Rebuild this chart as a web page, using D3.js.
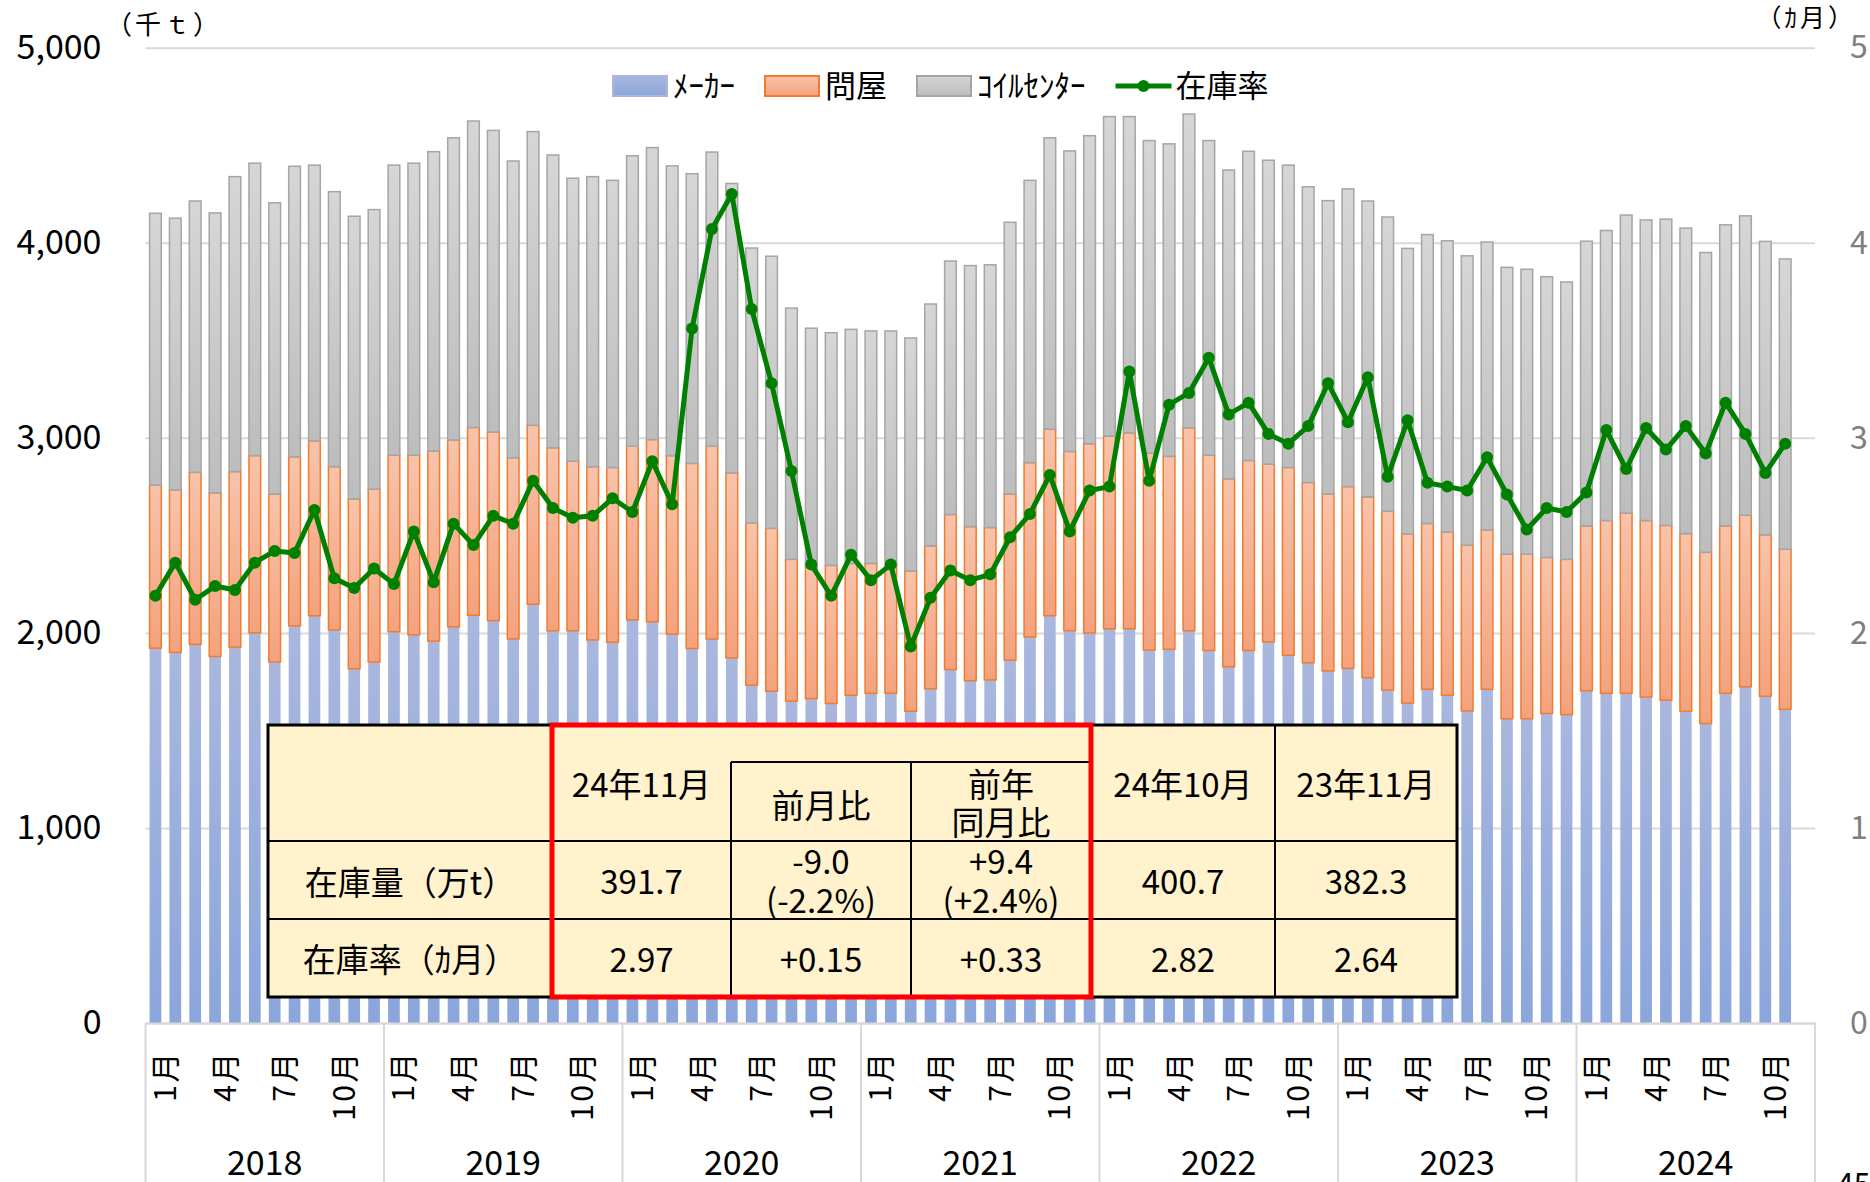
<!DOCTYPE html>
<html>
<head>
<meta charset="utf-8">
<script src="https://cdnjs.cloudflare.com/ajax/libs/d3/7.8.5/d3.min.js"></script>
<style>
  body { margin: 0; background: #fff; }
  svg { display: block; font-family: "Noto Sans CJK JP", "Noto Sans", sans-serif; }
</style>
</head>
<body>
<svg width="1870" height="1182"></svg>
<script>
// ---- data (千t / カ月), Jan 2018 .. Nov 2024 ----
var years = ["2018", "2019", "2020", "2021", "2022", "2023", "2024"];
var monthTicks = [1, 4, 7, 10];

var maker = [
  1922, 1900, 1941, 1879, 1927, 2000, 1851, 2036, 2088, 2015, 1816, 1851,
  2006, 1990, 1958, 2031, 2090, 2063, 1969, 2147, 2011, 2011, 1964, 1952,
  2067, 2057, 1994, 1920, 1969, 1872, 1732, 1701, 1650, 1663, 1638, 1680,
  1690, 1690, 1598, 1713, 1812, 1755, 1759, 1860, 1979, 2088, 2011, 2000,
  2021, 2021, 1912, 1916, 2011, 1910, 1826, 1910, 1954, 1885, 1847, 1805,
  1818, 1770, 1707, 1640, 1711, 1680, 1600, 1711, 1560, 1560, 1587, 1581,
  1703, 1690, 1690, 1671, 1655, 1598, 1535, 1690, 1724, 1675, 1608];
var wholesaler = [
  836, 833, 882, 839, 900, 909, 861, 867, 896, 837, 871, 886,
  905, 921, 974, 958, 963, 967, 929, 917, 938, 869, 888, 896,
  890, 934, 915, 949, 988, 949, 831, 835, 727, 676, 708, 676,
  666, 656, 720, 733, 795, 790, 781, 852, 894, 957, 919, 970,
  988, 1005, 1009, 989, 1040, 1001, 964, 974, 911, 963, 924, 907,
  932, 927, 917, 867, 850, 837, 850, 817, 844, 844, 800, 796,
  846, 886, 924, 905, 896, 911, 878, 859, 879, 828, 821];
var coilCenter = [
  1393, 1393, 1391, 1435, 1512, 1499, 1493, 1489, 1414, 1410, 1449, 1433,
  1487, 1497, 1535, 1549, 1571, 1546, 1521, 1506, 1501, 1451, 1487, 1472,
  1489, 1497, 1485, 1485, 1508, 1483, 1410, 1395, 1288, 1223, 1193, 1200,
  1192, 1202, 1194, 1240, 1299, 1338, 1347, 1393, 1447, 1493, 1541, 1579,
  1638, 1621, 1603, 1602, 1609, 1613, 1583, 1585, 1558, 1550, 1516, 1504,
  1526, 1517, 1508, 1464, 1481, 1493, 1483, 1476, 1470, 1460, 1439, 1422,
  1459, 1487, 1528, 1541, 1570, 1566, 1537, 1543, 1535, 1504, 1488];
var stockRatio = [
  2.19, 2.36, 2.17, 2.24, 2.22, 2.36, 2.42, 2.41, 2.63, 2.28, 2.23, 2.33,
  2.25, 2.52, 2.26, 2.56, 2.45, 2.60, 2.56, 2.78, 2.64, 2.59, 2.60, 2.69,
  2.62, 2.88, 2.66, 3.56, 4.07, 4.25, 3.66, 3.28, 2.83, 2.35, 2.19, 2.40,
  2.27, 2.35, 1.93, 2.18, 2.32, 2.27, 2.30, 2.49, 2.61, 2.81, 2.52, 2.73,
  2.75, 3.34, 2.78, 3.17, 3.23, 3.41, 3.12, 3.18, 3.02, 2.97, 3.06, 3.28,
  3.08, 3.31, 2.80, 3.09, 2.77, 2.75, 2.73, 2.90, 2.71, 2.53, 2.64, 2.62,
  2.72, 3.04, 2.84, 3.05, 2.94, 3.06, 2.92, 3.18, 3.02, 2.82, 2.97];

var leftTicks = [0, 1000, 2000, 3000, 4000, 5000];
var rightTicks = [0, 1, 2, 3, 4, 5];
var seriesKeys = ["maker", "wholesaler", "coilCenter"];
var legendLabels = ["ﾒｰｶｰ", "問屋", "ｺｲﾙｾﾝﾀｰ", "在庫率"];

// summary table
var tableRowLabels = ["在庫量（万t）", "在庫率（ｶ月）"];
var tableHeads = ["24年11月", "前月比", "前年\n同月比", "24年10月", "23年11月"];
var tableStock = ["391.7", "-9.0\n(-2.2%)", "+9.4\n(+2.4%)", "400.7", "382.3"];
var tableRatio = ["2.97", "+0.15", "+0.33", "2.82", "2.64"];

// ---- setup ----
var svg = d3.select("svg"),
    width = +svg.attr("width"),
    height = +svg.attr("height");

// plot box (note: "top" is reserved on window, so prefixed names)
var plotLeft = 145.5, plotRight = 1815, plotTop = 47.7, plotBottom = 1023;

var monthKeys = [];
years.forEach(function (yr) {
  for (var m = 1; m <= 12; m++) monthKeys.push(yr + "-" + m);
});

var data = maker.map(function (v, i) {
  return { key: monthKeys[i], maker: v, wholesaler: wholesaler[i], coilCenter: coilCenter[i], ratio: stockRatio[i] };
});

var x = d3.scaleBand().domain(monthKeys).range([plotLeft, plotRight]).paddingInner(0.41).paddingOuter(0.205);
var y = d3.scaleLinear().domain([0, 5000]).range([plotBottom, plotTop]);
var yR = d3.scaleLinear().domain([0, 5]).range([plotBottom, plotTop]);

// gradients for bars
var defs = svg.append("defs");
var grads = {
  maker: ["#a9b7de", "#8ba6dc"],
  wholesaler: ["#f8c3aa", "#f4a27d"],
  coilCenter: ["#d6d6d6", "#bdbdbd"]
};
Object.keys(grads).forEach(function (k) {
  var g = defs.append("linearGradient").attr("id", "g-" + k)
    .attr("x1", 0).attr("y1", 0).attr("x2", 0).attr("y2", 1);
  g.append("stop").attr("offset", "0%").attr("stop-color", grads[k][0]);
  g.append("stop").attr("offset", "100%").attr("stop-color", grads[k][1]);
});
var strokes = { maker: "none", wholesaler: "#ed7d31", coilCenter: "#a5a5a5" };

// gridlines
svg.append("g")
  .attr("transform", "translate(" + plotLeft + ",0)")
  .call(d3.axisLeft(y).tickValues(leftTicks).tickSize(-(plotRight - plotLeft)).tickFormat(""))
  .call(function (g) { g.select(".domain").remove(); })
  .selectAll("line").attr("stroke", "#d9d9d9").attr("stroke-width", 2);

// stacked bars
var stacked = d3.stack().keys(seriesKeys)(data);
svg.append("g")
  .selectAll("g")
  .data(stacked)
  .enter()
  .append("g")
  .attr("fill", function (d) { return "url(#g-" + d.key + ")"; })
  .attr("stroke", function (d) { return strokes[d.key]; })
  .attr("stroke-width", 1.5)
  .selectAll("rect")
  .data(function (d) { return d; })
  .enter()
  .append("rect")
  .attr("x", function (d) { return x(d.data.key); })
  .attr("width", x.bandwidth())
  .attr("y", function (d) { return y(d[1]); })
  .attr("height", function (d) { return y(d[0]) - y(d[1]); });

// ratio line
var line = d3.line()
  .x(function (d) { return x(d.key) + x.bandwidth() / 2; })
  .y(function (d) { return yR(d.ratio); });

svg.append("path")
  .datum(data)
  .attr("fill", "none")
  .attr("stroke", "#008000")
  .attr("stroke-width", 5)
  .attr("stroke-linejoin", "round")
  .attr("d", line);

svg.append("g")
  .selectAll("circle")
  .data(data)
  .enter()
  .append("circle")
  .attr("cx", function (d) { return x(d.key) + x.bandwidth() / 2; })
  .attr("cy", function (d) { return yR(d.ratio); })
  .attr("r", 6)
  .attr("fill", "#008000");

// left axis
svg.append("g")
  .attr("transform", "translate(" + plotLeft + ",0)")
  .call(d3.axisLeft(y).tickValues(leftTicks).tickSize(0).tickPadding(44).tickFormat(d3.format(",")))
  .call(function (g) { g.select(".domain").remove(); })
  .selectAll("text")
  .attr("font-size", 34)
  .attr("font-family", "Noto Sans CJK JP")
  .attr("fill", "#000");

// right axis
svg.append("g")
  .attr("transform", "translate(" + plotRight + ",0)")
  .call(d3.axisRight(yR).tickValues(rightTicks).tickSize(0).tickPadding(35).tickFormat(d3.format("d")))
  .call(function (g) { g.select(".domain").remove(); })
  .selectAll("text")
  .attr("font-size", 32)
  .attr("font-family", "Noto Sans CJK JP")
  .attr("fill", "#7f7f7f");

// category axis (month labels)
var xAxis = svg.append("g")
  .attr("transform", "translate(0," + plotBottom + ")")
  .call(d3.axisBottom(x)
    .tickValues(monthKeys.filter(function (k) { return monthTicks.indexOf(+k.split("-")[1]) >= 0; }))
    .tickSize(0)
    .tickFormat(function (k) { return k.split("-")[1] + "月"; }));
xAxis.select(".domain").attr("stroke", "#d9d9d9").attr("stroke-width", 2);
xAxis.selectAll("text")
  .attr("transform", "rotate(-90)")
  .attr("text-anchor", "end")
  .attr("x", -27)
  .attr("y", 10)
  .attr("dy", "0.35em")
  .attr("font-size", 30)
  .attr("letter-spacing", 2.5)
  .attr("font-family", "Noto Sans CJK JP")
  .attr("fill", "#000");

// year separators and labels
var gap = x.step() - x.bandwidth();
var yearEdges = years.map(function (yr) { return x(yr + "-1") - gap / 2; });
yearEdges.push(x(years[years.length - 1] + "-12") + x.bandwidth() + gap / 2);

svg.append("g")
  .selectAll("line")
  .data(yearEdges)
  .enter()
  .append("line")
  .attr("x1", function (d) { return d; })
  .attr("x2", function (d) { return d; })
  .attr("y1", plotBottom)
  .attr("y2", height)
  .attr("stroke", "#d9d9d9")
  .attr("stroke-width", 2);

svg.append("g")
  .selectAll("text")
  .data(years)
  .enter()
  .append("text")
  .attr("x", function (d, i) { return (yearEdges[i] + yearEdges[i + 1]) / 2; })
  .attr("y", 1175)
  .attr("text-anchor", "middle")
  .attr("font-size", 34)
  .text(function (d) { return d; });

// unit labels
svg.append("text").attr("x", 106).attr("y", 34).attr("font-size", 26).attr("letter-spacing", 3).text("（千ｔ）");
svg.append("text").attr("x", 1856).attr("y", 27).attr("text-anchor", "end").attr("font-size", 25).attr("letter-spacing", 3).text("（ｶ月）");
svg.append("text").attr("x", 1837).attr("y", 1195).attr("font-size", 30).text("45");

// legend
var legend = svg.append("g").attr("transform", "translate(0,86)");
var lx = 613;
legendLabels.forEach(function (lab, i) {
  if (i < 3) {
    legend.append("rect")
      .attr("x", lx).attr("y", -10).attr("width", 54).attr("height", 20)
      .attr("fill", "url(#g-" + seriesKeys[i] + ")")
      .attr("stroke", i === 0 ? "#a9b7de" : strokes[seriesKeys[i]])
      .attr("stroke-width", 2);
  } else {
    legend.append("line")
      .attr("x1", lx).attr("x2", lx + 56).attr("y1", 0).attr("y2", 0)
      .attr("stroke", "#008000").attr("stroke-width", 5);
    legend.append("circle").attr("cx", lx + 28).attr("cy", 0).attr("r", 6).attr("fill", "#008000");
  }
  var t = legend.append("text")
    .attr("x", lx + 60).attr("y", 0).attr("dy", "0.36em")
    .attr("font-size", 31)
    .text(lab);
  lx += 60 + t.node().getComputedTextLength() + 30;
});

// summary table
var colX = [268, 552, 731, 911, 1091, 1275, 1457];
var rowY = [725, 841, 919, 997];
var tbl = svg.append("g");

tbl.append("rect")
  .attr("x", colX[0]).attr("y", rowY[0])
  .attr("width", colX[6] - colX[0]).attr("height", rowY[3] - rowY[0])
  .attr("fill", "#fff2cc").attr("stroke", "#000").attr("stroke-width", 3);

var tLines = [
  [colX[0], rowY[1], colX[6], rowY[1]],
  [colX[0], rowY[2], colX[6], rowY[2]],
  [colX[2], 762, colX[4], 762],
  [colX[2], 762, colX[2], rowY[3]],
  [colX[3], 762, colX[3], rowY[3]],
  [colX[5], rowY[0], colX[5], rowY[3]]
];
tbl.selectAll("line")
  .data(tLines)
  .enter()
  .append("line")
  .attr("x1", function (d) { return d[0]; })
  .attr("y1", function (d) { return d[1]; })
  .attr("x2", function (d) { return d[2]; })
  .attr("y2", function (d) { return d[3]; })
  .attr("stroke", "#000")
  .attr("stroke-width", 2);

function cellText(str, cx, cy, lh) {
  var parts = str.split("\n");
  parts.forEach(function (p, j) {
    tbl.append("text")
      .attr("x", cx)
      .attr("y", cy + (j - (parts.length - 1) / 2) * lh)
      .attr("dy", "0.36em")
      .attr("text-anchor", "middle")
      .attr("font-size", 33)
      .text(p);
  });
}

var headY = [785, 806, 804, 785, 785];
tableHeads.forEach(function (h, i) {
  cellText(h, (colX[i + 1] + colX[i + 2]) / 2, headY[i], 38);
});
cellText(tableRowLabels[0], (colX[0] + colX[1]) / 2, 883, 39);
cellText(tableRowLabels[1], (colX[0] + colX[1]) / 2, 960, 39);
tableStock.forEach(function (v, i) {
  cellText(v, (colX[i + 1] + colX[i + 2]) / 2, 882, 39);
});
tableRatio.forEach(function (v, i) {
  cellText(v, (colX[i + 1] + colX[i + 2]) / 2, 960, 39);
});

// red highlight
tbl.append("rect")
  .attr("x", colX[1]).attr("y", rowY[0])
  .attr("width", colX[4] - colX[1]).attr("height", rowY[3] - rowY[0])
  .attr("fill", "none").attr("stroke", "#ff0000").attr("stroke-width", 5);
</script>
</body>
</html>
